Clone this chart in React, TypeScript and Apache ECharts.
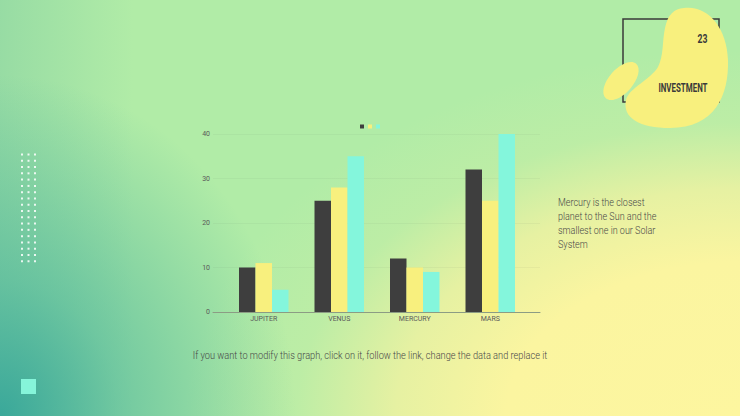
import React, { useEffect, useRef } from "react";
import * as echarts from "echarts";

const categories = ["JUPITER", "VENUS", "MERCURY", "MARS"];
const seriesNames = ["Series 1", "Series 2", "Series 3"];
const seriesDark = [10, 25, 12, 32];
const seriesYellow = [11, 28, 10, 25];
const seriesCyan = [5, 35, 9, 40];
const yMin = 0;
const yMax = 40;
const yInterval = 10;

const paragraph = [
  "Mercury is the closest",
  "planet to the Sun and the",
  "smallest one in our Solar",
  "System",
];
const footnote =
  "If you want to modify this graph, click on it, follow the link, change the data and replace it";

const COLORS = ["#3e3e3e", "#f8f07e", "#84f6dc"];

const BLOB =
  "M 684 8 C 708 5 727 28 728 60 C 729 95 715 128 670 128 C 640 128 622 118 626 100 C 629 88 650 80 658 67 C 664 55 662 42 665 28 C 668 14 674 9 684 8 Z";

let registered = false;

export default function App() {
  const ref = useRef<HTMLDivElement>(null);

  useEffect(() => {
    if (!ref.current) return;
    if (!registered) {
      echarts.graphic.registerShape("blob", echarts.graphic.extendPath(BLOB, {}) as any);
      registered = true;
    }
    const chart = echarts.init(ref.current, null, { renderer: "svg" });

    const dots: any[] = [];
    const dotCols = [22, 28.5, 35];
    for (let r = 0; r < 18; r++) {
      for (const cx of dotCols) {
        dots.push({
          type: "rect",
          shape: { x: cx - 1, y: 154.5 + r * 6.28 - 1, width: 2, height: 2 },
          style: { fill: "rgba(255,255,255,0.85)" },
          silent: true,
        });
      }
    }

    const labelFont = { fontFamily: "Roboto", fontSize: 7, color: "#5a5a5a" };

    chart.setOption({
      animation: false,
      backgroundColor: "transparent",
      color: COLORS,
      legend: {
        data: seriesNames,
        top: 119.5,
        left: "center",
        icon: "rect",
        itemWidth: 4,
        itemHeight: 4,
        itemGap: 4,
        formatter: () => "",
        textStyle: { fontSize: 1 },
      },
      grid: [
        { left: 213, right: 200, top: 134, bottom: 104 },
        { left: 226, right: 212, top: 134, bottom: 104 },
      ],
      xAxis: [
        {
          type: "category",
          gridIndex: 0,
          data: categories,
          axisLine: { show: true, lineStyle: { color: "#8c9c84", width: 1 } },
          axisTick: { show: false },
          axisLabel: { show: false },
        },
        {
          type: "category",
          gridIndex: 1,
          data: categories,
          axisLine: { show: false },
          axisTick: { show: false },
          axisLabel: { ...labelFont, margin: 3 },
        },
      ],
      yAxis: [
        {
          type: "value",
          gridIndex: 0,
          min: yMin,
          max: yMax,
          interval: yInterval,
          axisLine: { show: false },
          axisTick: { show: false },
          axisLabel: { ...labelFont, margin: 3 },
          splitLine: { lineStyle: { color: "rgba(90,110,80,0.06)", width: 1 } },
        },
        {
          type: "value",
          gridIndex: 1,
          min: yMin,
          max: yMax,
          interval: yInterval,
          show: false,
          splitLine: { show: false },
        },
      ],
      series: [seriesDark, seriesYellow, seriesCyan].map((d, i) => ({
        name: seriesNames[i],
        type: "bar",
        xAxisIndex: 1,
        yAxisIndex: 1,
        data: d,
        barWidth: 16.5,
        barGap: "0%",
        itemStyle: { color: COLORS[i] },
      })),
      graphic: [
        ...dots,
        {
          type: "rect",
          shape: { x: 21, y: 379, width: 15, height: 15 },
          style: { fill: "#86f5da" },
          silent: true,
        },
        {
          type: "rect",
          shape: { x: 623, y: 19, width: 96, height: 83 },
          style: { fill: "none", stroke: "#3a3a3a", lineWidth: 1.5 },
          z: 1,
          silent: true,
        },
        {
          type: "ellipse",
          x: 621,
          y: 81,
          rotation: 0.85,
          shape: { cx: 0, cy: 0, rx: 23, ry: 12 },
          style: { fill: "#f8f07e" },
          z: 2,
          silent: true,
        },
        {
          type: "blob",
          x: 0,
          y: 0,
          style: { fill: "#f8f07e" },
          z: 2,
          silent: true,
        },
        {
          type: "text",
          x: 707.5,
          y: 39,
          scaleX: 0.72,
          style: {
            text: "23",
            fontFamily: "Roboto",
            fontWeight: "bold",
            fontSize: 12,
            fill: "#3a3a3a",
            textAlign: "right",
            textVerticalAlign: "middle",
          },
          z: 3,
          silent: true,
        },
        {
          type: "text",
          x: 707.5,
          y: 88,
          scaleX: 0.66,
          style: {
            text: "INVESTMENT",
            fontFamily: "Roboto",
            fontWeight: "bold",
            fontSize: 12,
            fill: "#3a3a3a",
            textAlign: "right",
            textVerticalAlign: "middle",
          },
          z: 3,
          silent: true,
        },
        {
          type: "text",
          x: 558,
          y: 195,
          scaleX: 0.86,
          style: {
            text: paragraph.join("\n"),
            fontFamily: "Roboto",
            fontWeight: 300,
            fontSize: 10.5,
            lineHeight: 14.2,
            fill: "#484848",
            textAlign: "left",
            textVerticalAlign: "top",
          },
          silent: true,
        },
        {
          type: "text",
          x: 370,
          y: 355,
          scaleX: 0.88,
          style: {
            text: footnote,
            fontFamily: "Roboto",
            fontWeight: 300,
            fontSize: 10.5,
            fill: "#484848",
            textAlign: "center",
            textVerticalAlign: "middle",
          },
          silent: true,
        },
      ],
    });

    return () => chart.dispose();
  }, []);

  const bg = [
    "radial-gradient(ellipse 40% 82% at 0% 100%, rgba(58,168,154,1) 0%, rgba(62,172,155,0.55) 40%, rgba(62,172,155,0) 100%)",
    "linear-gradient(90deg, rgba(120,200,160,0.45) 0%, rgba(120,200,160,0) 18%)",
    "radial-gradient(ellipse 75% 88% at 100% 100%, #fdf69f 0%, #fbf5a0 42%, #e6f1a2 62%, rgba(200,238,164,0.5) 80%, rgba(177,236,167,0) 100%)",
    "#b1eca7",
  ].join(", ");

  return (
    <div
      style={{
        position: "absolute",
        left: 0,
        top: 0,
        width: 740,
        height: 416,
        background: bg,
        overflow: "hidden",
      }}
    >
      <div ref={ref} style={{ width: 740, height: 416 }} />
    </div>
  );
}
